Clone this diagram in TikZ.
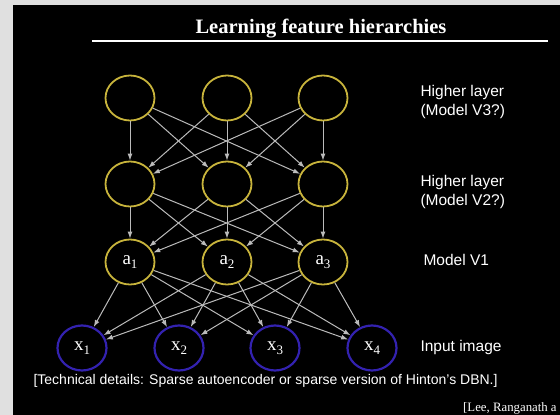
\documentclass[tikz,border=0pt]{standalone}
\usepackage{fontspec}
\setmainfont{Liberation Serif}
\setsansfont{Liberation Sans}
\usetikzlibrary{shapes.geometric,arrows.meta}

\definecolor{panelgray}{HTML}{E0E0E0}
\definecolor{unitgold}{HTML}{C8B43C}
\definecolor{inputblue}{HTML}{3322B0}
\definecolor{linkgray}{HTML}{BBBBBB}

\newcommand{\unitsub}[1]{\raisebox{-0.45ex}{\fontsize{13}{13}\selectfont #1}}

\begin{document}
\begin{tikzpicture}[x=1pt, y=-1pt,
  unit/.style={ellipse, draw=unitgold, line width=1.8pt, minimum width=49pt, minimum height=45pt, inner sep=0pt, text=white, font=\fontsize{19}{19}\selectfont},
  inunit/.style={unit, draw=inputblue, line width=2.2pt},
  link/.style={-{Latex[length=7pt,width=5pt]}, draw=linkgray, line width=1pt},
  layertext/.style={anchor=west, align=left, text=white, font=\sffamily\fontsize{15.5}{19}\selectfont},
]
\useasboundingbox (0,0) rectangle (560,415);

% === PANEL ===
\fill[panelgray] (0,0) rectangle (560,415);
\fill[black] (13,5) rectangle (560,415);

\node[text=white, font=\bfseries\fontsize{20.5}{20.5}\selectfont] (title) at (321,29) {Learning feature hierarchies};
\draw[white, line width=2pt] (92,41) -- (548,41);

% === UNITS ===
\node[unit] (h31) at (130,98) {};
\node[unit] (h32) at (227,98) {};
\node[unit] (h33) at (323,98) {};

\node[unit] (h21) at (130,184) {};
\node[unit] (h22) at (227,184) {};
\node[unit] (h23) at (323,184) {};

\node[unit] (a1) at (130,262) {a\unitsub{1}};
\node[unit] (a2) at (227,262) {a\unitsub{2}};
\node[unit] (a3) at (323,262) {a\unitsub{3}};

\node[inunit] (x1) at (82,348) {x\unitsub{1}};
\node[inunit] (x2) at (179,348) {x\unitsub{2}};
\node[inunit] (x3) at (275,348) {x\unitsub{3}};
\node[inunit] (x4) at (372,348) {x\unitsub{4}};

% === LINKS ===
\foreach \s in {h31,h32,h33}
  \foreach \t in {h21,h22,h23}
    \draw[link] (\s) -- (\t);
\foreach \s in {h21,h22,h23}
  \foreach \t in {a1,a2,a3}
    \draw[link] (\s) -- (\t);
\foreach \s in {a1,a2,a3}
  \foreach \t in {x1,x2,x3,x4}
    \draw[link] (\s) -- (\t);

% === LAYER NAMES ===
\node[layertext] (v3) at (417,102) {Higher layer\\(Model V3?)};
\node[layertext] (v2) at (417,192) {Higher layer\\(Model V2?)};
\node[layertext] (v1) at (420,260) {Model V1};
\node[layertext] (img) at (417,347) {Input image};

\node[anchor=west, text=white, font=\sffamily\fontsize{14}{14}\selectfont] (note) at (30,381)
  {[Technical details: Sparse autoencoder or sparse version of Hinton's DBN.]};
\node[anchor=base west, text=white, font=\fontsize{12.8}{12.8}\selectfont, inner sep=0pt] (cite) at (463,411)
  {[Lee, Ranganath a};
\end{tikzpicture}
\end{document}
